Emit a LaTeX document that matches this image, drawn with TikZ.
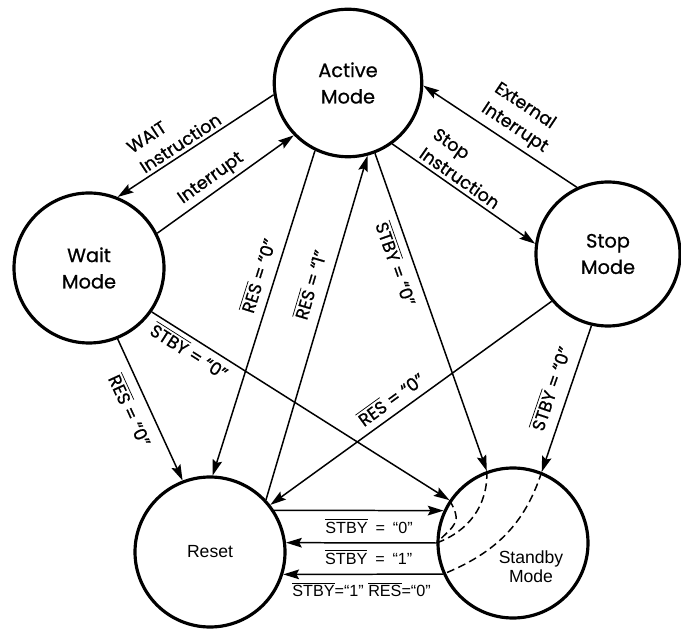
\documentclass[tikz,border=0pt]{standalone}
\usepackage{fontspec}
\setmainfont{Liberation Sans}
\newfontfamily\agfont{Poppins}[FakeBold=0.8]
\usepackage{tikz}
\usetikzlibrary{arrows.meta}
\newcommand{\lowact}[1]{$\overline{\mbox{#1}}$}
\newcommand{\eqsp}{\hspace{4.5pt}=\hspace{4.5pt}}
\tikzset{
  flowarrow/.style={-{Stealth[length=9pt, width=5.5pt, inset=1.5pt]}, line width=0.85pt},
  holdpath/.style={dash pattern=on 4.5pt off 2.5pt, line width=0.85pt},
  modenode/.style={draw, circle, line width=1.8pt, minimum size=2.95cm, inner sep=0pt, align=center, font=\agfont\fontsize{11}{15}\selectfont},
  basenode/.style={draw, circle, line width=1.8pt, minimum size=3cm, inner sep=0pt, align=center, font=\fontsize{10}{11}\selectfont},
  edgetext/.style={font=\agfont\fontsize{10}{13.5}\selectfont, align=left, sloped, inner sep=2pt},
  pintext/.style={font=\fontsize{9.2}{11}\selectfont, inner sep=2pt}
}

\begin{document}
\begin{tikzpicture}[>=Stealth]
  \useasboundingbox (0,0) rectangle (13.62,12.58);
  \node[modenode] (active) at (6.96,10.92) {Active\\Mode};
  \node[modenode, minimum size=3.0cm] (wait) at (1.78,7.22) {Wait\\Mode};
  \node[modenode, minimum size=2.88cm] (stop) at (12.16,7.50) {Stop\\Mode};
  \node[basenode] (reset) at (4.20,1.54) {Reset};
  \node[basenode, label={[font=\fontsize{10}{11}\selectfont, align=center, xshift=0.36cm, yshift=-0.48cm]center:Standby\\Mode}] (standby) at (10.26,1.72) {};

  % upper ring
  \draw[flowarrow] (active.189) -- node[edgetext, pos=0.56, above] {WAIT\\Instruction} (wait.68);
  \draw[flowarrow] (wait.27) -- node[edgetext, pos=0.45, above] {Interrupt} (active.224);
  \draw[flowarrow] (active.306) -- node[edgetext, pos=0.43, above] {Stop\\Instruction} (stop.172);
  \draw[flowarrow] (stop.115) -- node[edgetext, pos=0.46, above=1pt] {External\\Interrupt} (active.358);

  % into and out of reset
  \draw[flowarrow] (active.244) -- node[edgetext, pos=0.40, above=3pt] {\lowact{RES} = “0”} (reset.88);
  \draw[flowarrow] (reset.43) -- node[edgetext, pos=0.61, above=4pt] {\lowact{RES} = “1”} (active.285);
  \draw[flowarrow] (wait.292) -- node[edgetext, pos=0.45, below=3pt] {\lowact{RES} = “0”} (reset.111);
  \draw[flowarrow] (stop.220) -- node[edgetext, pos=0.54, above=2pt] {\lowact{RES} = “0”} (reset.38);

  % into standby
  \draw[flowarrow] (active.291) -- node[edgetext, pos=0.33, below=2pt] {\lowact{STBY} = “0”} (standby.110);
  \draw[flowarrow] (wait.325) -- node[edgetext, pos=0.15, below=0pt] {\lowact{STBY} = “0”} (standby.146);
  \draw[flowarrow] (stop.257) -- node[edgetext, pos=0.47, above=4pt] {\lowact{STBY} = “0”} (standby.68);

  % reset <-> standby
  \draw[flowarrow] (reset.33) -- node[pintext, pos=0.56, below=2pt] {\lowact{STBY}\eqsp“0”} (standby.155);
  \draw[flowarrow] (standby.180) -- node[pintext, pos=0.45, below=1.5pt] {\lowact{STBY}\eqsp“1”} (reset.7);
  \draw[flowarrow] (standby.204) -- node[pintext, pos=0.51, below=2pt] {\lowact{STBY}=“1” \lowact{RES}=“0”} (reset.343);

  \draw[holdpath] (standby.110) to[out=-88, in=20] (standby.180);
  \draw[holdpath] (standby.146) to[out=-60, in=45, looseness=1.5] (standby.180);
  \draw[holdpath] (standby.68) to[out=-108, in=22] (standby.204);
\end{tikzpicture}
\end{document}
